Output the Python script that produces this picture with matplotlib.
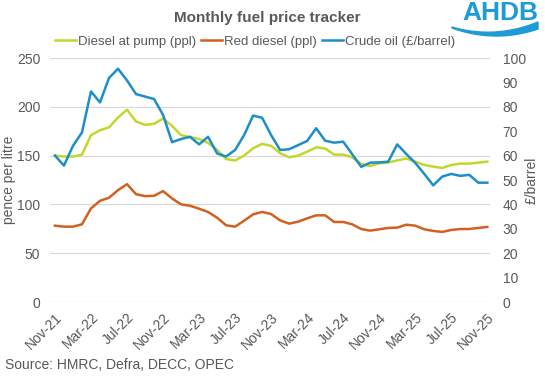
import matplotlib
matplotlib.use("Agg")
import matplotlib.pyplot as plt
import numpy as np

plt.rcParams['font.family'] = ['Liberation Sans', 'DejaVu Sans']

# monthly values, Nov-21 .. Nov-25
months = ['Nov-21', 'Dec-21', 'Jan-22', 'Feb-22', 'Mar-22', 'Apr-22', 'May-22', 'Jun-22',
          'Jul-22', 'Aug-22', 'Sep-22', 'Oct-22', 'Nov-22', 'Dec-22', 'Jan-23', 'Feb-23',
          'Mar-23', 'Apr-23', 'May-23', 'Jun-23', 'Jul-23', 'Aug-23', 'Sep-23', 'Oct-23',
          'Nov-23', 'Dec-23', 'Jan-24', 'Feb-24', 'Mar-24', 'Apr-24', 'May-24', 'Jun-24',
          'Jul-24', 'Aug-24', 'Sep-24', 'Oct-24', 'Nov-24', 'Dec-24', 'Jan-25', 'Feb-25',
          'Mar-25', 'Apr-25', 'May-25', 'Jun-25', 'Jul-25', 'Aug-25', 'Sep-25', 'Oct-25',
          'Nov-25']

diesel = [150, 149, 149, 151, 171, 176, 179, 189, 197, 185, 181.5, 182.5, 188, 180.5,
          171, 169, 167, 163, 156, 146.5, 145, 150, 157.5, 162, 160, 152.4, 148.3, 150,
          154, 158.5, 157.2, 151, 151, 148.3, 141.4, 139.4, 142, 143, 145, 147, 143.8,
          140.4, 138.7, 137.3, 140.4, 141.8, 141.8, 142.8, 143.8]

red_diesel = [78.2, 77.2, 77.2, 79.6, 95.9, 103.7, 106.8, 114.6, 120.7, 110.5, 108.5,
              108.8, 113.6, 106.1, 100, 98.6, 95.6, 92.2, 86.4, 78.6, 77.2, 83.3, 89.8,
              92.3, 90.1, 83.6, 80.3, 82.3, 85.7, 88.8, 88.8, 82, 82, 79.6, 74.8, 73.1,
              74.5, 75.9, 76.2, 79.2, 78.2, 74.5, 72.8, 71.8, 73.8, 74.8, 74.8, 75.9, 76.9]

crude = [60, 55.9, 64, 69.5, 86.3, 81.8, 91.8, 95.6, 90.8, 85.2, 84.2, 83.2, 76.7, 65.5,
         66.8, 67.7, 64.6, 67.7, 60.9, 59.6, 62.3, 68.4, 76.4, 75.5, 68.4, 62.3, 62.6,
         64.3, 66, 71.2, 66.1, 65.3, 65.7, 60.6, 55.4, 57.1, 57.2, 57.5, 64.6, 60.7, 57,
         52.5, 47.8, 51.4, 52.5, 51.7, 52.1, 48.9, 48.9]

left_ticks = [0, 50, 100, 150, 200, 250]
right_ticks = [0, 10, 20, 30, 40, 50, 60, 70, 80, 90, 100]

c_diesel = '#c3d62b'
c_red = '#d2601f'
c_crude = '#1e8ec8'
c_text = '#595959'
c_grid = '#d9d9d9'

fig = plt.figure(figsize=(5.45, 3.76), dpi=100)
ax = fig.add_axes([50 / 545, 1 - 302 / 376, 440 / 545, 244 / 376])
ax2 = ax.twinx()

x = np.arange(len(months))
l1, = ax.plot(x, diesel, color=c_diesel, lw=1.8, label='Diesel at pump (ppl)')
l2, = ax.plot(x, red_diesel, color=c_red, lw=1.8, label='Red diesel (ppl)')
l3, = ax2.plot(x, crude, color=c_crude, lw=1.8, label='Crude oil (£/barrel)')

ax.set_ylim(0, 250)
ax2.set_ylim(0, 100)
ax.set_xlim(-0.55, 48.3)
ax.set_yticks(left_ticks)
ax2.set_yticks(right_ticks)
ax.yaxis.grid(True, color=c_grid, lw=0.9)
ax.set_axisbelow(True)

ax.set_xticks(x[::4])
ax.set_xticklabels(months[::4], rotation=45, ha='right', va='top', rotation_mode='anchor')

for a in (ax, ax2):
    for s in a.spines.values():
        s.set_visible(False)
    a.tick_params(length=0, colors=c_text, labelsize=10)
ax.tick_params(axis='x', pad=6)
ax.tick_params(axis='y', pad=7)
ax2.tick_params(axis='y', pad=9)

ax.set_ylabel('pence per litre', color=c_text, fontsize=10)
ax2.set_ylabel('£/barrel', color=c_text, fontsize=10)
ax.yaxis.set_label_coords(-0.077, 0.5)
ax2.yaxis.set_label_coords(1.079, 0.5)

fig.text(267 / 545, 1 - 18 / 376, 'Monthly fuel price tracker', ha='center', va='center',
         fontsize=11, fontweight='bold', color=c_text)
fig.legend(handles=[l1, l2, l3], loc='center', bbox_to_anchor=(255 / 545, 1 - 42 / 376),
           ncol=3, frameon=False, fontsize=9.5, handlelength=1.6, handletextpad=0.15,
           columnspacing=0.4, labelcolor=c_text)
fig.text(5 / 545, 1 - 365 / 376, 'Source: HMRC, Defra, DECC, OPEC', ha='left', va='center',
         fontsize=10, color=c_text)

# AHDB logo
logo = '#1e9ad6'
fig.text(500 / 545, 1 - 13 / 376, 'AHDB', ha='center', va='center', fontsize=19,
         fontweight='bold', color=logo)
t = np.linspace(0, 1, 60)
wx = 452 + 86 * t
top = 27 - 5 * t + 30 * t * (1 - t)
bot = top + 1 + 6 * t
xs = np.concatenate([wx, wx[::-1]]) / 545
ys = 1 - np.concatenate([top, bot[::-1]]) / 376
fig.patches.append(plt.Polygon(np.column_stack([xs, ys]), closed=True, color=logo,
                               transform=fig.transFigure, figure=fig))

fig.savefig('out.png', dpi=100)
